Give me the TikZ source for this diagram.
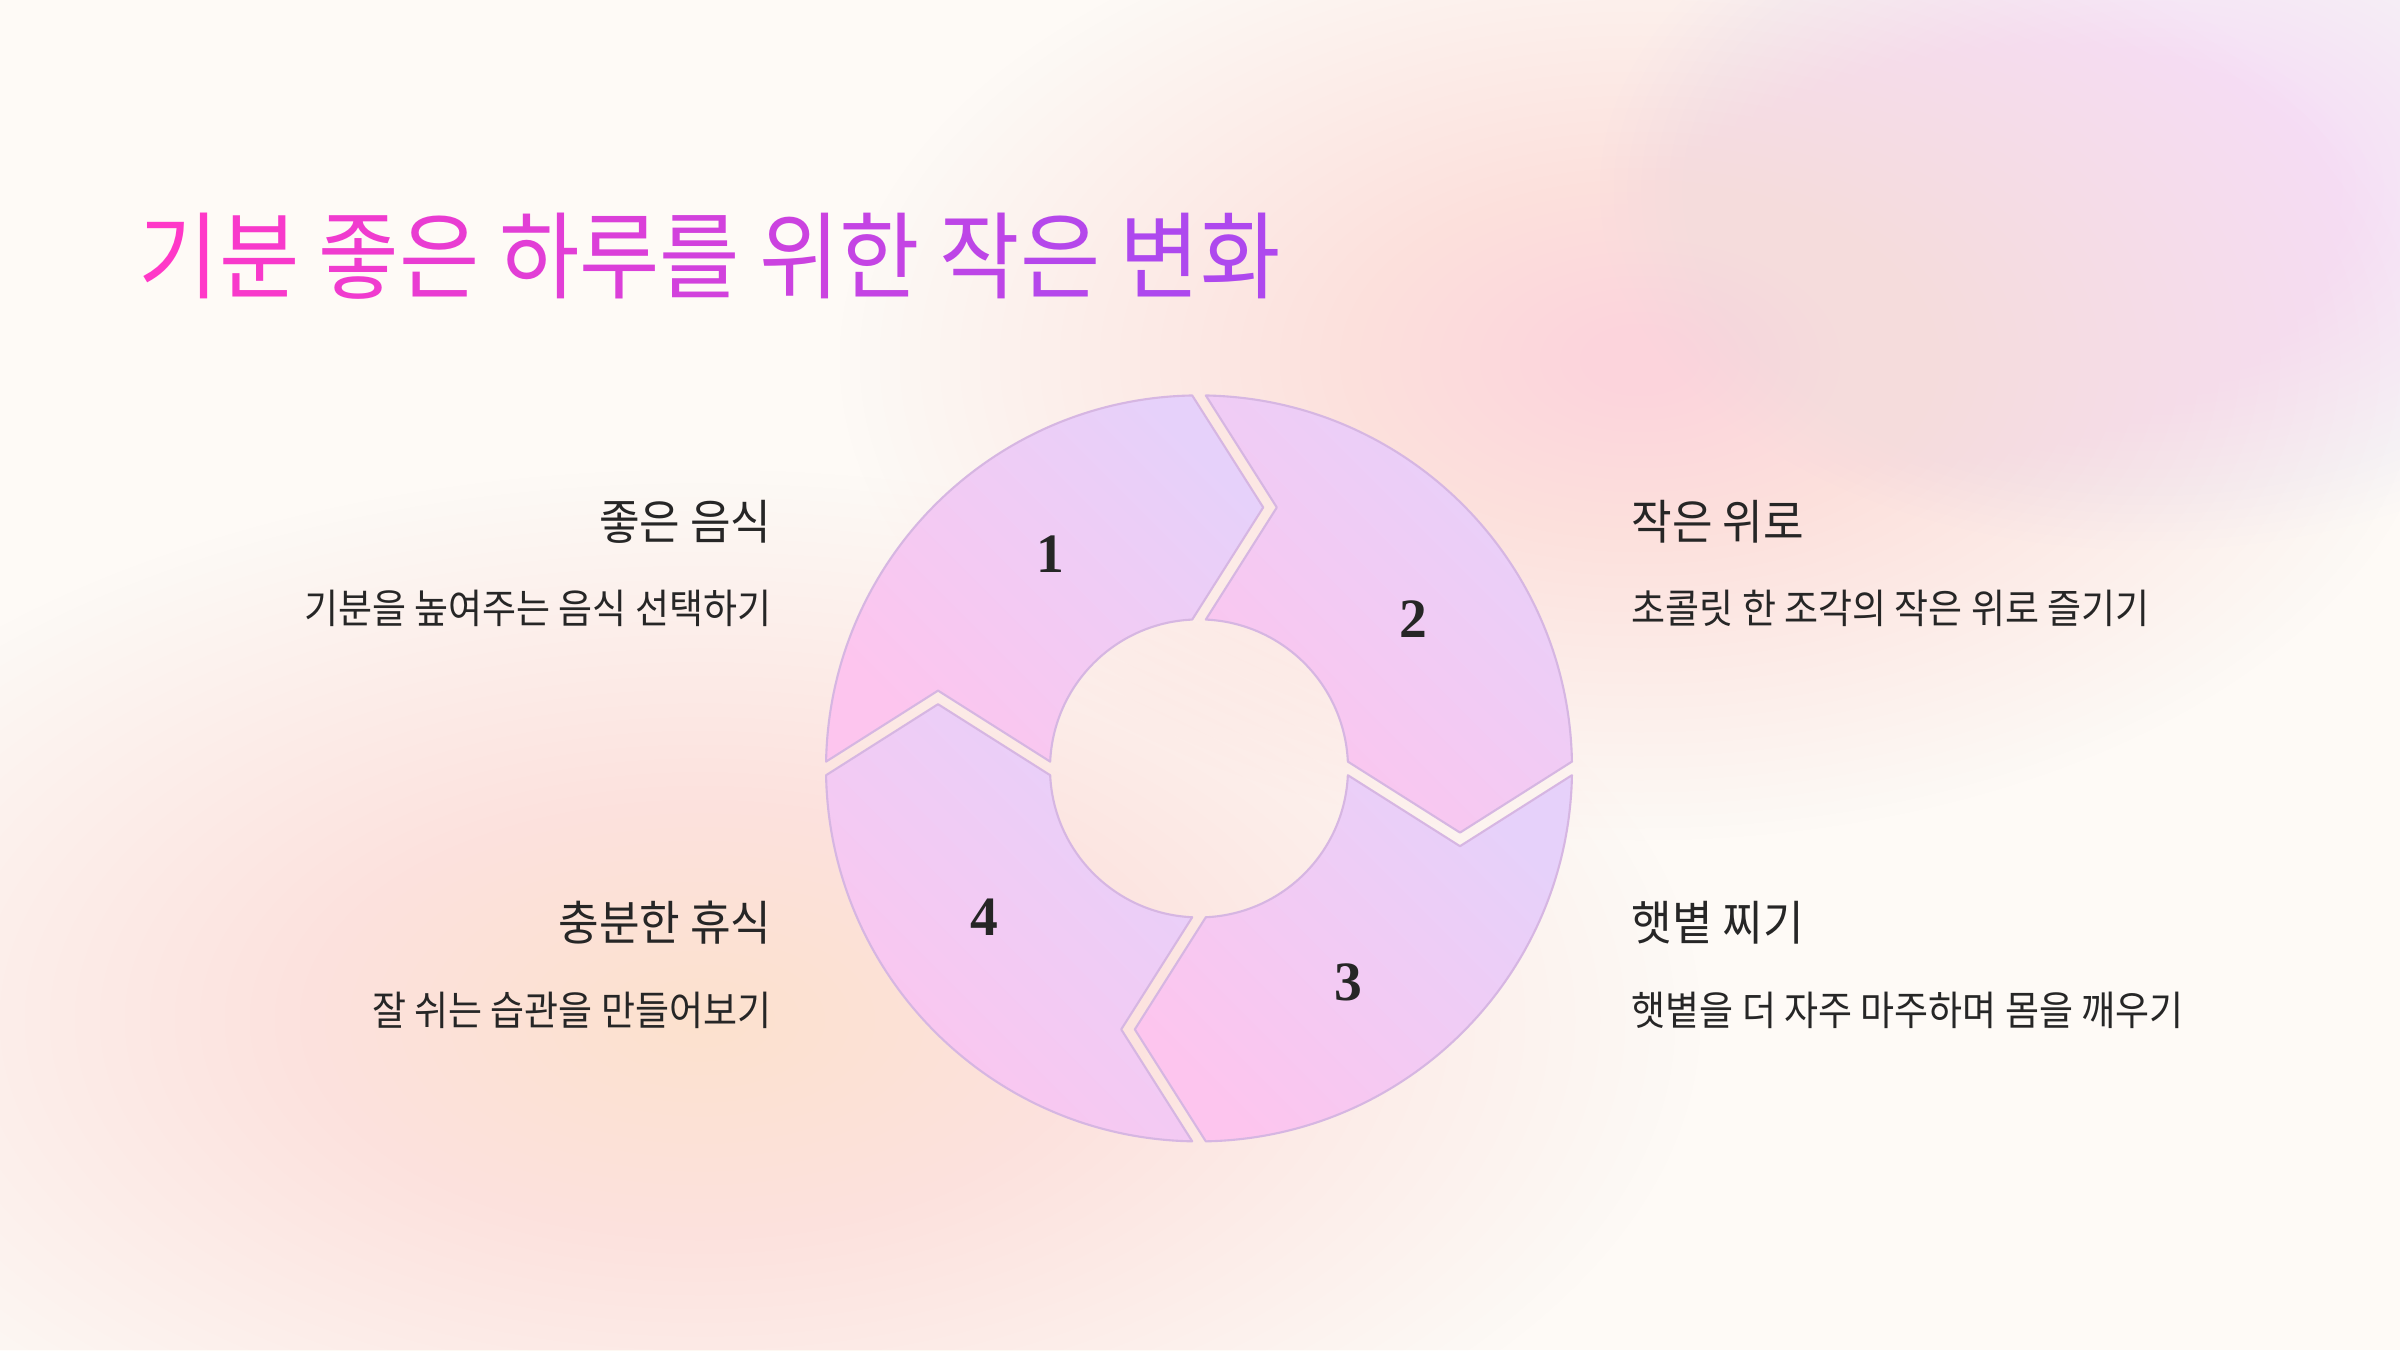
\documentclass[tikz,border=0pt]{standalone}
\usepackage{fontspec}
\setmainfont{Liberation Serif}
\newfontfamily\krbody[FakeStretch=0.915]{Noto Sans CJK KR}
\newfontfamily\krhead[FakeStretch=0.93]{Noto Sans CJK KR}
\newfontfamily\krtitle[FakeStretch=0.92]{Noto Sans CJK KR}
\newfontfamily\numfont{Liberation Serif}
\definecolor{bgc}{HTML}{FEFAF6}
\definecolor{peachc}{HTML}{FCE1C4}
\definecolor{pinkbg}{HTML}{FCD4DC}
\definecolor{lavbg}{HTML}{F5DCF5}
\definecolor{pc1}{HTML}{FDC5EE}
\definecolor{pc2}{HTML}{E6D1FA}
\definecolor{edgec}{HTML}{D6B6E2}
\definecolor{txt}{HTML}{262626}
\definecolor{tA}{HTML}{FF38C8}
\definecolor{tB}{HTML}{AE48EE}
\newcommand{\ttcol}[2]{\textcolor{tB!#1!tA}{#2}}
\tikzset{
  piece/.style={draw=edgec, line width=0.6pt, line join=round, top color=pc2, bottom color=pc1, shading angle=-45},
  num/.style={font=\numfont\bfseries\fontsize{15.8}{18}\selectfont, text=txt, inner sep=0pt},
  head/.style={font=\krhead\fontsize{13.5}{16}\selectfont, text=txt, inner sep=0pt},
  bodytxt/.style={font=\krbody\fontsize{11.5}{14}\selectfont, text=txt, inner sep=0pt},
  titletxt/.style={font=\krtitle\fontsize{27}{32}\selectfont, inner sep=0pt}
}
\begin{document}
\begin{tikzpicture}
\useasboundingbox (0,0) rectangle (24,13.5);
\clip (0,0) rectangle (24,13.5);
\fill[bgc] (0,0) rectangle (24,13.5);
% soft background blobs
\foreach \i in {1,...,40} {
  \fill[peachc, fill opacity=0.017] (7.0,3.3) ellipse [x radius={10*\i/40}, y radius={5.5*\i/40}];
}
\foreach \i in {1,...,40} {
  \fill[pinkbg, fill opacity=0.016] (16.4,9.9) ellipse [x radius={8*\i/40}, y radius={4.8*\i/40}];
}
\foreach \i in {1,...,40} {
  \fill[lavbg, fill opacity=0.012] (21.5,11.6) ellipse [x radius={5.5*\i/40}, y radius={3.6*\i/40}];
}
% title
\node[titletxt, anchor=base west] (title) at (1.38,10.58) {\ttcol{0}{기}\ttcol{9}{분} \ttcol{18}{좋}\ttcol{27}{은} \ttcol{36}{하}\ttcol{45}{루}\ttcol{55}{를} \ttcol{64}{위}\ttcol{73}{한} \ttcol{82}{작}\ttcol{91}{은} \ttcol{100}{변}\ttcol{100}{화}};
% ring
\coordinate (c) at (11.99,5.816);
\begin{scope}[shift={(c)}]
\foreach \k/\lab in {0/1,1/2,2/3,3/4} {
  \pgfmathsetmacro{\t}{-90*\k}
  \path[piece] ({178.955+\t}:3.73) arc[start angle={178.955+\t}, end angle={91.045+\t}, radius=3.73]
    -- ({76.18+\t}:2.6878) -- ({92.616+\t}:1.49)
    arc[start angle={92.616+\t}, end angle={177.384+\t}, radius=1.49]
    -- ({163.40+\t}:2.7235) -- cycle;
  \node[num] (n\lab) at ({124.8+\t}:2.61) {\lab};
}
\end{scope}
% labels
\node[head, anchor=base east] (h1) at (7.72,8.11) {좋은 음식};
\node[bodytxt, anchor=base east] (b1) at (7.72,7.27) {기분을 높여주는 음식 선택하기};
\node[head, anchor=base east] (h4) at (7.72,4.10) {충분한 휴식};
\node[bodytxt, anchor=base east] (b4) at (7.72,3.25) {잘 쉬는 습관을 만들어보기};
\node[head, anchor=base west] (h2) at (16.31,8.11) {작은 위로};
\node[bodytxt, anchor=base west] (b2) at (16.31,7.27) {초콜릿 한 조각의 작은 위로 즐기기};
\node[head, anchor=base west] (h3) at (16.31,4.10) {햇볕 찌기};
\node[bodytxt, anchor=base west] (b3) at (16.31,3.25) {햇볕을 더 자주 마주하며 몸을 깨우기};
\end{tikzpicture}
\end{document}
